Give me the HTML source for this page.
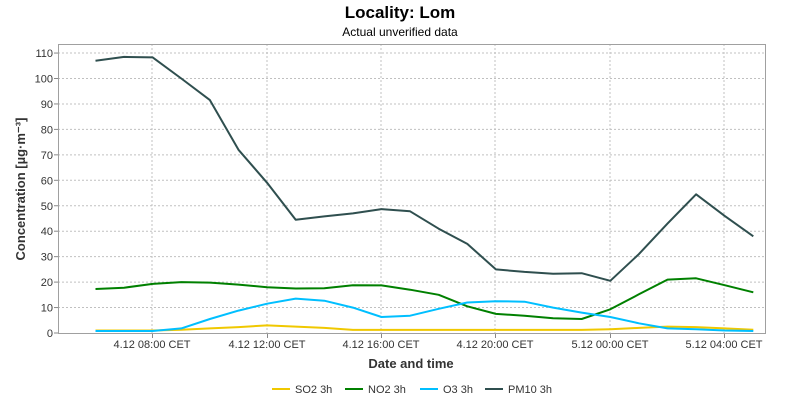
<!DOCTYPE html>
<html><head><meta charset="utf-8"><style>
html,body{margin:0;padding:0;background:#fff;}
svg{display:block;font-family:"Liberation Sans",sans-serif;}
</style></head><body>
<svg id="s" width="800" height="400" xmlns="http://www.w3.org/2000/svg">
<rect width="800" height="400" fill="#fff"/>
<text x="400" y="18" font-size="17" font-weight="bold" text-anchor="middle">Locality: Lom</text>
<text x="400" y="36" font-size="12" text-anchor="middle">Actual unverified data</text>
<g id="grid" stroke="#c0c0c0" stroke-width="1" stroke-dasharray="2,2"></g>
<g id="ticks" stroke="#888" stroke-width="1"></g>
<rect x="58.5" y="44.5" width="707" height="289" fill="none" stroke="#a0a0a0"/>
<g id="ylab" font-size="11" text-anchor="end" fill="#333"></g>
<g font-size="11" text-anchor="middle" fill="#333">
<text x="152" y="348">4.12 08:00 CET</text>
<text x="267" y="348">4.12 12:00 CET</text>
<text x="381" y="348">4.12 16:00 CET</text>
<text x="495" y="348">4.12 20:00 CET</text>
<text x="610" y="348">5.12 00:00 CET</text>
<text x="724" y="348">5.12 04:00 CET</text>
</g>
<text x="411" y="368" font-size="13" font-weight="bold" text-anchor="middle" fill="#333">Date and time</text>
<text transform="translate(25,189) rotate(-90)" font-size="13" font-weight="bold" text-anchor="middle" fill="#333">Concentration [µg·m⁻³]</text>
<g id="lines" fill="none" stroke-width="2" stroke-linejoin="round"></g>
<g font-size="11" fill="#333">
<line x1="272" y1="389" x2="290" y2="389" stroke="#f0c800" stroke-width="2"/><text x="295" y="393">SO2 3h</text>
<line x1="345" y1="389" x2="363" y2="389" stroke="#008000" stroke-width="2"/><text x="368" y="393">NO2 3h</text>
<line x1="420" y1="389" x2="438" y2="389" stroke="#00bfff" stroke-width="2"/><text x="443" y="393">O3 3h</text>
<line x1="485" y1="389" x2="503" y2="389" stroke="#2f4f4f" stroke-width="2"/><text x="508" y="393">PM10 3h</text>
</g>
</svg>
<script>
var NS="http://www.w3.org/2000/svg";
function el(p,t,a){var e=document.createElementNS(NS,t);for(var k in a)e.setAttribute(k,a[k]);document.getElementById(p).appendChild(e);return e;}
function Y(v){return 333-v*2.545;}
for(var v=10;v<=110;v+=10){el("grid","line",{x1:58,x2:765,y1:Y(v),y2:Y(v)});}
[152,267,381,495,610,724].forEach(function(x){el("grid","line",{x1:x,x2:x,y1:44,y2:333});el("ticks","line",{x1:x+0.5,x2:x+0.5,y1:334,y2:338});});
for(var v=0;v<=110;v+=10){var t=el("ylab","text",{x:53,y:Y(v)+4});t.textContent=v;el("ticks","line",{x1:54,x2:58,y1:Y(v),y2:Y(v)});}
var d={
"#f0c800":[1,1,1,1.3,1.8,2.3,3,2.5,2,1.2,1.2,1.2,1.2,1.2,1.2,1.2,1.2,1.2,1.5,2,2.5,2.3,1.8,1.3],
"#008000":[17.3,17.8,19.3,20,19.8,19,18,17.5,17.6,18.8,18.7,17,15,10.5,7.5,6.8,5.8,5.5,9.3,15.2,21,21.5,18.8,16],
"#00bfff":[0.8,0.8,0.8,1.8,5.5,8.8,11.5,13.5,12.7,10,6.3,6.8,9.5,12,12.5,12.3,10,8,6.3,3.8,1.8,1.5,1,0.8],
"#2f4f4f":[107,108.5,108.3,100,91.5,72,59,44.5,45.8,47,48.7,47.8,41,35,25,24,23.3,23.5,20.5,31,43,54.5,46,38]};
for(var c in d){var p=d[c].map(function(v,i){return (95.5+i*28.6).toFixed(1)+","+Y(v).toFixed(1);}).join(" ");el("lines","polyline",{points:p,stroke:c});}
</script>
</body></html>
